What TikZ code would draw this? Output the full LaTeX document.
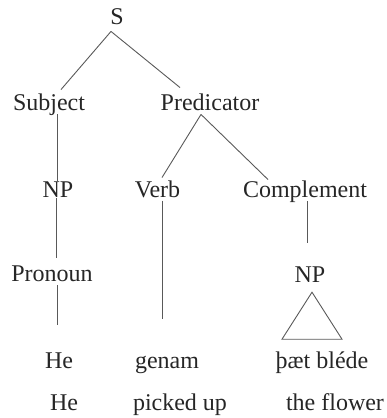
\documentclass[tikz,border=0pt]{standalone}
\usepackage{fontspec}
\setmainfont{Liberation Serif}
\usetikzlibrary{positioning}

\begin{document}
\begin{tikzpicture}[x=1pt,y=-1pt,
    word/.style={anchor=base,inner sep=0pt,text=black!85,font=\fontsize{24}{28}\selectfont},
    branch/.style={draw=black!65,line width=0.9pt}]

            \useasboundingbox (0,0) rectangle (387,418);

            % categories
            \node[word] (S) at (117,24) {S};
            \node[word] (subj) at (49,110) {Subject};
            \node[word] (pred) at (210,110) {Predicator};
            \node[word] (np1) at (58,197) {NP};
            \node[word] (verb) at (157.5,197) {Verb};
            \node[word] (compl) at (305,197) {Complement};
            \node[word] (pron) at (52,281) {Pronoun};
            \node[word] (np2) at (310,282) {NP};

            % words
            \node[word] (he) at (59,368) {He};
            \node[word] (genam) at (167,368) {genam};
            \node[word] (flower) at (322,368) {þæt bléde};
            \node[word] (heGl) at (64,410) {He};
            \node[word] (pickGl) at (180,410) {picked up};
            \node[word] (flowerGl) at (335,410) {the flower};

            \path[branch] ([shift={(-6,7)}]S.south) edge ([shift={(12,-3.6)}]subj.north)
                                                    edge ([shift={(-30,-5.6)}]pred.north)
                          ([shift={(8,-1)}]subj.south) edge ([shift={(-1,0)}]np1.north)
                          ([shift={(-1.5,1)}]np1.south) edge ([shift={(4.5,-7)}]pron.north)
                          ([shift={(-9,4)}]pred.south) edge ([shift={(4.5,-2.6)}]verb.north)
                          ([shift={(-9,4)}]pred.south) edge ([shift={(-37,-0.6)}]compl.north)
                          ([shift={(4.5,3)}]verb.south) edge ([shift={(-5,-36)}]genam.north)
                          ([shift={(5,4)}]pron.south) edge ([shift={(-2,-27)}]he.north)
                          ([shift={(2,-1)}]compl.south) edge ([shift={(-3,-23)}]np2.north);

            \draw[branch] ([shift={(2,10)}]np2.south) -- ++(-30,47) -- ++(60,0) -- cycle;

        \end{tikzpicture}
\end{document}
